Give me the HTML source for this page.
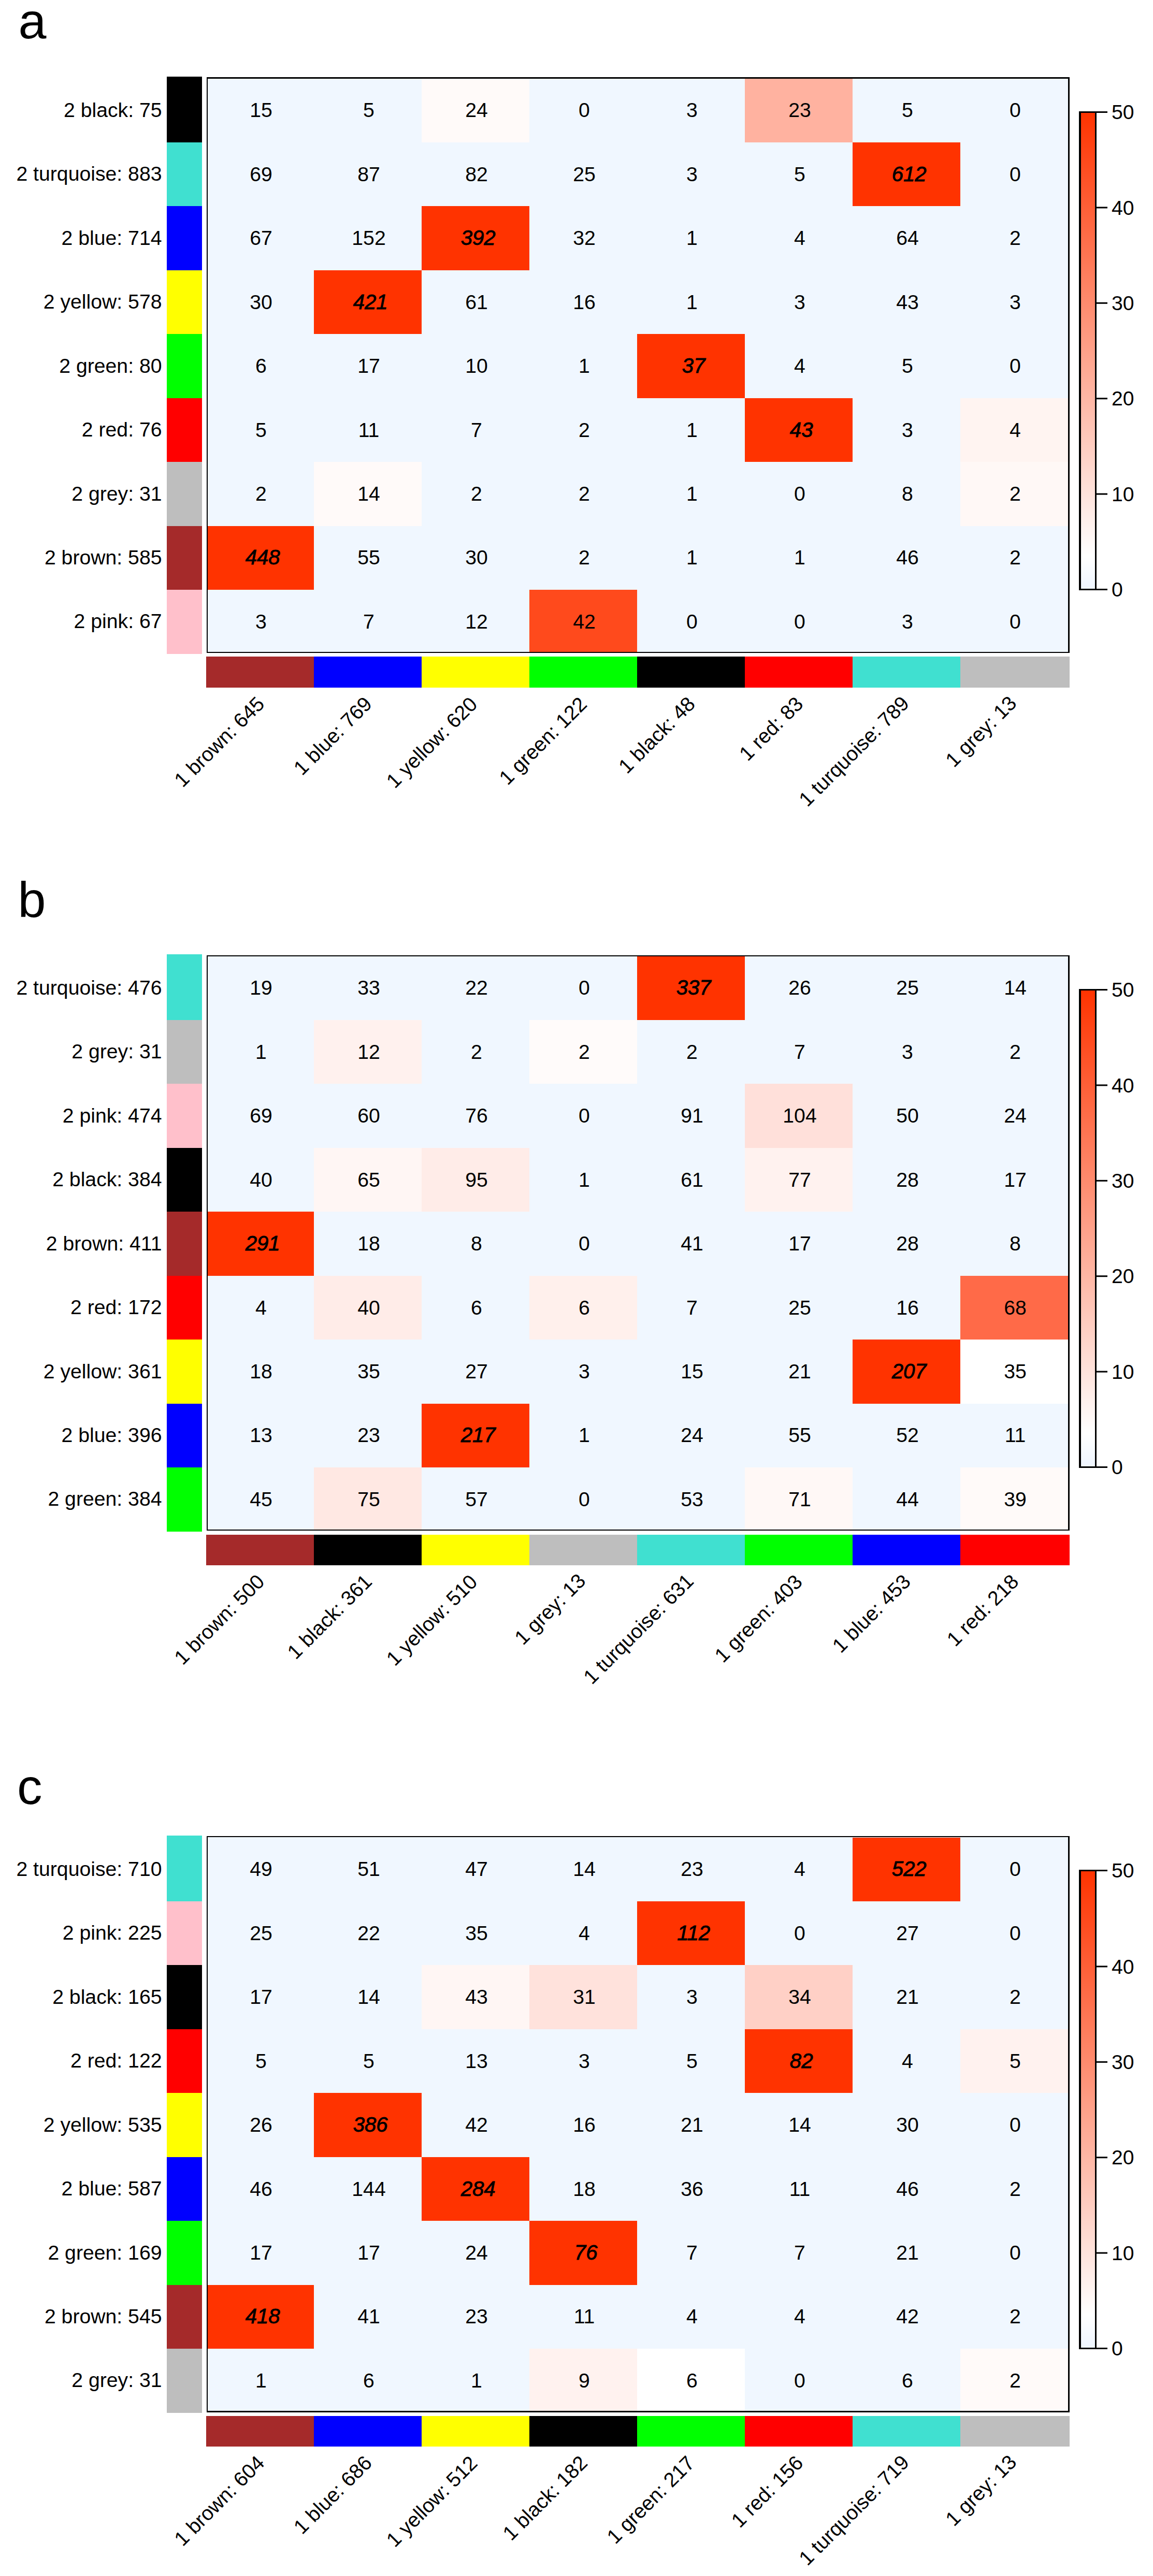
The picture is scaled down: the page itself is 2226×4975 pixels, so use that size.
<!DOCTYPE html>
<html><head><meta charset="utf-8"><title>Module overlap heatmaps</title>
<style>html,body{margin:0;padding:0;background:#fff}svg{display:block}</style></head>
<body>
<svg width="2226" height="4975" viewBox="0 0 2226 4975" font-family="'Liberation Sans', Arial, sans-serif" font-size="39.2" fill="#000">
<defs><linearGradient id="lg" x1="0" y1="0" x2="0" y2="1"><stop offset="0" stop-color="#FF3300"/><stop offset="0.93" stop-color="#FFFFFF"/><stop offset="1" stop-color="#EEF5FF"/></linearGradient></defs>
<g transform="translate(0,0)">
<text x="35.5" y="73.5" font-size="97">a</text>
<rect x="399" y="150" width="1663" height="1110" fill="#F0F7FF"/>
<rect x="814" y="152" width="208" height="123" fill="#FFFAF9"/>
<rect x="1438" y="152" width="208" height="123" fill="#FFB2A0"/>
<rect x="1646" y="275" width="208" height="123" fill="#FF3300"/>
<rect x="814" y="398" width="208" height="124" fill="#FF3300"/>
<rect x="606" y="522" width="208" height="123" fill="#FF3300"/>
<rect x="1230" y="645" width="208" height="124" fill="#FF3300"/>
<rect x="1438" y="769" width="208" height="123" fill="#FF3300"/>
<rect x="1854" y="769" width="208" height="123" fill="#FFF4F1"/>
<rect x="606" y="892" width="208" height="124" fill="#FFFAF9"/>
<rect x="1854" y="892" width="208" height="124" fill="#FFF8F6"/>
<rect x="399" y="1016" width="207" height="123" fill="#FF3300"/>
<rect x="1022" y="1139" width="208" height="121" fill="#FF4A1C"/>
<rect x="322" y="148" width="68" height="127" fill="#000000"/>
<rect x="322" y="275" width="68" height="123" fill="#40E0D0"/>
<rect x="322" y="398" width="68" height="124" fill="#0000FF"/>
<rect x="322" y="522" width="68" height="123" fill="#FFFF00"/>
<rect x="322" y="645" width="68" height="124" fill="#00FF00"/>
<rect x="322" y="769" width="68" height="123" fill="#FF0000"/>
<rect x="322" y="892" width="68" height="124" fill="#BEBEBE"/>
<rect x="322" y="1016" width="68" height="123" fill="#A52A2A"/>
<rect x="322" y="1139" width="68" height="124" fill="#FFC0CB"/>
<rect x="398" y="1268" width="208" height="60" fill="#A52A2A"/>
<rect x="606" y="1268" width="208" height="60" fill="#0000FF"/>
<rect x="814" y="1268" width="208" height="60" fill="#FFFF00"/>
<rect x="1022" y="1268" width="208" height="60" fill="#00FF00"/>
<rect x="1230" y="1268" width="208" height="60" fill="#000000"/>
<rect x="1438" y="1268" width="208" height="60" fill="#FF0000"/>
<rect x="1646" y="1268" width="208" height="60" fill="#40E0D0"/>
<rect x="1854" y="1268" width="211" height="60" fill="#BEBEBE"/>
<rect x="399" y="149" width="2" height="1112" fill="#000"/>
<rect x="2062" y="149" width="3" height="1112" fill="#000"/>
<rect x="399" y="149" width="1666" height="3" fill="#000"/>
<rect x="399" y="1259" width="1666" height="2" fill="#000"/>
<text x="312.5" y="225.9" text-anchor="end">2 black: 75</text>
<text x="312.5" y="349.3" text-anchor="end">2 turquoise: 883</text>
<text x="312.5" y="472.8" text-anchor="end">2 blue: 714</text>
<text x="312.5" y="596.2" text-anchor="end">2 yellow: 578</text>
<text x="312.5" y="719.6" text-anchor="end">2 green: 80</text>
<text x="312.5" y="843.1" text-anchor="end">2 red: 76</text>
<text x="312.5" y="966.5" text-anchor="end">2 grey: 31</text>
<text x="312.5" y="1089.9" text-anchor="end">2 brown: 585</text>
<text x="312.5" y="1213.4" text-anchor="end">2 pink: 67</text>
<text x="504.0" y="226.3" text-anchor="middle">15</text>
<text x="712.0" y="226.3" text-anchor="middle">5</text>
<text x="920.0" y="226.3" text-anchor="middle">24</text>
<text x="1128.0" y="226.3" text-anchor="middle">0</text>
<text x="1336.0" y="226.3" text-anchor="middle">3</text>
<text x="1544.0" y="226.3" text-anchor="middle">23</text>
<text x="1752.0" y="226.3" text-anchor="middle">5</text>
<text x="1960.0" y="226.3" text-anchor="middle">0</text>
<text x="504.0" y="349.7" text-anchor="middle">69</text>
<text x="712.0" y="349.7" text-anchor="middle">87</text>
<text x="920.0" y="349.7" text-anchor="middle">82</text>
<text x="1128.0" y="349.7" text-anchor="middle">25</text>
<text x="1336.0" y="349.7" text-anchor="middle">3</text>
<text x="1544.0" y="349.7" text-anchor="middle">5</text>
<text x="1755.2" y="349.7" text-anchor="middle" font-style="italic" font-size="40.2" stroke="#000" stroke-width="0.9">612</text>
<text x="1960.0" y="349.7" text-anchor="middle">0</text>
<text x="504.0" y="473.2" text-anchor="middle">67</text>
<text x="712.0" y="473.2" text-anchor="middle">152</text>
<text x="923.2" y="473.2" text-anchor="middle" font-style="italic" font-size="40.2" stroke="#000" stroke-width="0.9">392</text>
<text x="1128.0" y="473.2" text-anchor="middle">32</text>
<text x="1336.0" y="473.2" text-anchor="middle">1</text>
<text x="1544.0" y="473.2" text-anchor="middle">4</text>
<text x="1752.0" y="473.2" text-anchor="middle">64</text>
<text x="1960.0" y="473.2" text-anchor="middle">2</text>
<text x="504.0" y="596.6" text-anchor="middle">30</text>
<text x="715.2" y="596.6" text-anchor="middle" font-style="italic" font-size="40.2" stroke="#000" stroke-width="0.9">421</text>
<text x="920.0" y="596.6" text-anchor="middle">61</text>
<text x="1128.0" y="596.6" text-anchor="middle">16</text>
<text x="1336.0" y="596.6" text-anchor="middle">1</text>
<text x="1544.0" y="596.6" text-anchor="middle">3</text>
<text x="1752.0" y="596.6" text-anchor="middle">43</text>
<text x="1960.0" y="596.6" text-anchor="middle">3</text>
<text x="504.0" y="720.0" text-anchor="middle">6</text>
<text x="712.0" y="720.0" text-anchor="middle">17</text>
<text x="920.0" y="720.0" text-anchor="middle">10</text>
<text x="1128.0" y="720.0" text-anchor="middle">1</text>
<text x="1339.2" y="720.0" text-anchor="middle" font-style="italic" font-size="40.2" stroke="#000" stroke-width="0.9">37</text>
<text x="1544.0" y="720.0" text-anchor="middle">4</text>
<text x="1752.0" y="720.0" text-anchor="middle">5</text>
<text x="1960.0" y="720.0" text-anchor="middle">0</text>
<text x="504.0" y="843.5" text-anchor="middle">5</text>
<text x="712.0" y="843.5" text-anchor="middle">11</text>
<text x="920.0" y="843.5" text-anchor="middle">7</text>
<text x="1128.0" y="843.5" text-anchor="middle">2</text>
<text x="1336.0" y="843.5" text-anchor="middle">1</text>
<text x="1547.2" y="843.5" text-anchor="middle" font-style="italic" font-size="40.2" stroke="#000" stroke-width="0.9">43</text>
<text x="1752.0" y="843.5" text-anchor="middle">3</text>
<text x="1960.0" y="843.5" text-anchor="middle">4</text>
<text x="504.0" y="966.9" text-anchor="middle">2</text>
<text x="712.0" y="966.9" text-anchor="middle">14</text>
<text x="920.0" y="966.9" text-anchor="middle">2</text>
<text x="1128.0" y="966.9" text-anchor="middle">2</text>
<text x="1336.0" y="966.9" text-anchor="middle">1</text>
<text x="1544.0" y="966.9" text-anchor="middle">0</text>
<text x="1752.0" y="966.9" text-anchor="middle">8</text>
<text x="1960.0" y="966.9" text-anchor="middle">2</text>
<text x="507.2" y="1090.3" text-anchor="middle" font-style="italic" font-size="40.2" stroke="#000" stroke-width="0.9">448</text>
<text x="712.0" y="1090.3" text-anchor="middle">55</text>
<text x="920.0" y="1090.3" text-anchor="middle">30</text>
<text x="1128.0" y="1090.3" text-anchor="middle">2</text>
<text x="1336.0" y="1090.3" text-anchor="middle">1</text>
<text x="1544.0" y="1090.3" text-anchor="middle">1</text>
<text x="1752.0" y="1090.3" text-anchor="middle">46</text>
<text x="1960.0" y="1090.3" text-anchor="middle">2</text>
<text x="504.0" y="1213.8" text-anchor="middle">3</text>
<text x="712.0" y="1213.8" text-anchor="middle">7</text>
<text x="920.0" y="1213.8" text-anchor="middle">12</text>
<text x="1128.0" y="1213.8" text-anchor="middle">42</text>
<text x="1336.0" y="1213.8" text-anchor="middle">0</text>
<text x="1544.0" y="1213.8" text-anchor="middle">0</text>
<text x="1752.0" y="1213.8" text-anchor="middle">3</text>
<text x="1960.0" y="1213.8" text-anchor="middle">0</text>
<text transform="translate(513.0,1362.0) rotate(-45)" text-anchor="end">1 brown: 645</text>
<text transform="translate(720.5,1362.0) rotate(-45)" text-anchor="end">1 blue: 769</text>
<text transform="translate(924.0,1362.5) rotate(-45)" text-anchor="end">1 yellow: 620</text>
<text transform="translate(1135.5,1362.5) rotate(-45)" text-anchor="end">1 green: 122</text>
<text transform="translate(1344.5,1362.0) rotate(-45)" text-anchor="end">1 black: 48</text>
<text transform="translate(1553.0,1362.0) rotate(-45)" text-anchor="end">1 red: 83</text>
<text transform="translate(1757.5,1361.0) rotate(-45)" text-anchor="end">1 turquoise: 789</text>
<text transform="translate(1965.0,1360.5) rotate(-45)" text-anchor="end">1 grey: 13</text>
<rect x="2085" y="217" width="30" height="921" fill="url(#lg)"/>
<rect x="2083" y="215" width="4" height="925" fill="#000"/>
<rect x="2114" y="215" width="3" height="925" fill="#000"/>
<rect x="2083" y="215" width="34" height="3" fill="#000"/>
<rect x="2083" y="1137" width="34" height="3" fill="#000"/>
<rect x="2116" y="215" width="22" height="3" fill="#000"/>
<text x="2146" y="230.2">50</text>
<rect x="2116" y="399.4" width="22" height="3" fill="#000"/>
<text x="2146" y="414.6">40</text>
<rect x="2116" y="583.8" width="22" height="3" fill="#000"/>
<text x="2146" y="599.0">30</text>
<rect x="2116" y="768.2" width="22" height="3" fill="#000"/>
<text x="2146" y="783.4">20</text>
<rect x="2116" y="952.6" width="22" height="3" fill="#000"/>
<text x="2146" y="967.8">10</text>
<rect x="2116" y="1137" width="22" height="3" fill="#000"/>
<text x="2146" y="1152.2">0</text>
</g>
<g transform="translate(0,1695)">
<text x="34.5" y="75.5" font-size="97">b</text>
<rect x="399" y="150" width="1663" height="1110" fill="#F0F7FF"/>
<rect x="1230" y="152" width="208" height="123" fill="#FF3300"/>
<rect x="606" y="275" width="208" height="123" fill="#FFF1EE"/>
<rect x="1022" y="275" width="208" height="123" fill="#FFFBFA"/>
<rect x="1438" y="398" width="208" height="124" fill="#FFE0DA"/>
<rect x="606" y="522" width="208" height="123" fill="#FFF6F4"/>
<rect x="814" y="522" width="208" height="123" fill="#FFECE8"/>
<rect x="1438" y="522" width="208" height="123" fill="#FFF2EF"/>
<rect x="399" y="645" width="207" height="124" fill="#FF3300"/>
<rect x="606" y="769" width="208" height="123" fill="#FFECE8"/>
<rect x="1022" y="769" width="208" height="123" fill="#FFF0EC"/>
<rect x="1854" y="769" width="208" height="123" fill="#FF6A48"/>
<rect x="1646" y="892" width="208" height="124" fill="#FF3300"/>
<rect x="1854" y="892" width="208" height="124" fill="#FFFFFF"/>
<rect x="814" y="1016" width="208" height="123" fill="#FF3300"/>
<rect x="606" y="1139" width="208" height="121" fill="#FFE8E3"/>
<rect x="1438" y="1139" width="208" height="121" fill="#FFF8F6"/>
<rect x="1854" y="1139" width="208" height="121" fill="#FFFAF9"/>
<rect x="322" y="148" width="68" height="127" fill="#40E0D0"/>
<rect x="322" y="275" width="68" height="123" fill="#BEBEBE"/>
<rect x="322" y="398" width="68" height="124" fill="#FFC0CB"/>
<rect x="322" y="522" width="68" height="123" fill="#000000"/>
<rect x="322" y="645" width="68" height="124" fill="#A52A2A"/>
<rect x="322" y="769" width="68" height="123" fill="#FF0000"/>
<rect x="322" y="892" width="68" height="124" fill="#FFFF00"/>
<rect x="322" y="1016" width="68" height="123" fill="#0000FF"/>
<rect x="322" y="1139" width="68" height="124" fill="#00FF00"/>
<rect x="398" y="1269" width="208" height="59" fill="#A52A2A"/>
<rect x="606" y="1269" width="208" height="59" fill="#000000"/>
<rect x="814" y="1269" width="208" height="59" fill="#FFFF00"/>
<rect x="1022" y="1269" width="208" height="59" fill="#BEBEBE"/>
<rect x="1230" y="1269" width="208" height="59" fill="#40E0D0"/>
<rect x="1438" y="1269" width="208" height="59" fill="#00FF00"/>
<rect x="1646" y="1269" width="208" height="59" fill="#0000FF"/>
<rect x="1854" y="1269" width="211" height="59" fill="#FF0000"/>
<rect x="399" y="150" width="2" height="1111" fill="#000"/>
<rect x="2062" y="150" width="3" height="1111" fill="#000"/>
<rect x="399" y="150" width="1666" height="2" fill="#000"/>
<rect x="399" y="1259" width="1666" height="2" fill="#000"/>
<text x="312.5" y="225.9" text-anchor="end">2 turquoise: 476</text>
<text x="312.5" y="349.3" text-anchor="end">2 grey: 31</text>
<text x="312.5" y="472.8" text-anchor="end">2 pink: 474</text>
<text x="312.5" y="596.2" text-anchor="end">2 black: 384</text>
<text x="312.5" y="719.6" text-anchor="end">2 brown: 411</text>
<text x="312.5" y="843.1" text-anchor="end">2 red: 172</text>
<text x="312.5" y="966.5" text-anchor="end">2 yellow: 361</text>
<text x="312.5" y="1089.9" text-anchor="end">2 blue: 396</text>
<text x="312.5" y="1213.4" text-anchor="end">2 green: 384</text>
<text x="504.0" y="226.3" text-anchor="middle">19</text>
<text x="712.0" y="226.3" text-anchor="middle">33</text>
<text x="920.0" y="226.3" text-anchor="middle">22</text>
<text x="1128.0" y="226.3" text-anchor="middle">0</text>
<text x="1339.2" y="226.3" text-anchor="middle" font-style="italic" font-size="40.2" stroke="#000" stroke-width="0.9">337</text>
<text x="1544.0" y="226.3" text-anchor="middle">26</text>
<text x="1752.0" y="226.3" text-anchor="middle">25</text>
<text x="1960.0" y="226.3" text-anchor="middle">14</text>
<text x="504.0" y="349.7" text-anchor="middle">1</text>
<text x="712.0" y="349.7" text-anchor="middle">12</text>
<text x="920.0" y="349.7" text-anchor="middle">2</text>
<text x="1128.0" y="349.7" text-anchor="middle">2</text>
<text x="1336.0" y="349.7" text-anchor="middle">2</text>
<text x="1544.0" y="349.7" text-anchor="middle">7</text>
<text x="1752.0" y="349.7" text-anchor="middle">3</text>
<text x="1960.0" y="349.7" text-anchor="middle">2</text>
<text x="504.0" y="473.2" text-anchor="middle">69</text>
<text x="712.0" y="473.2" text-anchor="middle">60</text>
<text x="920.0" y="473.2" text-anchor="middle">76</text>
<text x="1128.0" y="473.2" text-anchor="middle">0</text>
<text x="1336.0" y="473.2" text-anchor="middle">91</text>
<text x="1544.0" y="473.2" text-anchor="middle">104</text>
<text x="1752.0" y="473.2" text-anchor="middle">50</text>
<text x="1960.0" y="473.2" text-anchor="middle">24</text>
<text x="504.0" y="596.6" text-anchor="middle">40</text>
<text x="712.0" y="596.6" text-anchor="middle">65</text>
<text x="920.0" y="596.6" text-anchor="middle">95</text>
<text x="1128.0" y="596.6" text-anchor="middle">1</text>
<text x="1336.0" y="596.6" text-anchor="middle">61</text>
<text x="1544.0" y="596.6" text-anchor="middle">77</text>
<text x="1752.0" y="596.6" text-anchor="middle">28</text>
<text x="1960.0" y="596.6" text-anchor="middle">17</text>
<text x="507.2" y="720.0" text-anchor="middle" font-style="italic" font-size="40.2" stroke="#000" stroke-width="0.9">291</text>
<text x="712.0" y="720.0" text-anchor="middle">18</text>
<text x="920.0" y="720.0" text-anchor="middle">8</text>
<text x="1128.0" y="720.0" text-anchor="middle">0</text>
<text x="1336.0" y="720.0" text-anchor="middle">41</text>
<text x="1544.0" y="720.0" text-anchor="middle">17</text>
<text x="1752.0" y="720.0" text-anchor="middle">28</text>
<text x="1960.0" y="720.0" text-anchor="middle">8</text>
<text x="504.0" y="843.5" text-anchor="middle">4</text>
<text x="712.0" y="843.5" text-anchor="middle">40</text>
<text x="920.0" y="843.5" text-anchor="middle">6</text>
<text x="1128.0" y="843.5" text-anchor="middle">6</text>
<text x="1336.0" y="843.5" text-anchor="middle">7</text>
<text x="1544.0" y="843.5" text-anchor="middle">25</text>
<text x="1752.0" y="843.5" text-anchor="middle">16</text>
<text x="1960.0" y="843.5" text-anchor="middle">68</text>
<text x="504.0" y="966.9" text-anchor="middle">18</text>
<text x="712.0" y="966.9" text-anchor="middle">35</text>
<text x="920.0" y="966.9" text-anchor="middle">27</text>
<text x="1128.0" y="966.9" text-anchor="middle">3</text>
<text x="1336.0" y="966.9" text-anchor="middle">15</text>
<text x="1544.0" y="966.9" text-anchor="middle">21</text>
<text x="1755.2" y="966.9" text-anchor="middle" font-style="italic" font-size="40.2" stroke="#000" stroke-width="0.9">207</text>
<text x="1960.0" y="966.9" text-anchor="middle">35</text>
<text x="504.0" y="1090.3" text-anchor="middle">13</text>
<text x="712.0" y="1090.3" text-anchor="middle">23</text>
<text x="923.2" y="1090.3" text-anchor="middle" font-style="italic" font-size="40.2" stroke="#000" stroke-width="0.9">217</text>
<text x="1128.0" y="1090.3" text-anchor="middle">1</text>
<text x="1336.0" y="1090.3" text-anchor="middle">24</text>
<text x="1544.0" y="1090.3" text-anchor="middle">55</text>
<text x="1752.0" y="1090.3" text-anchor="middle">52</text>
<text x="1960.0" y="1090.3" text-anchor="middle">11</text>
<text x="504.0" y="1213.8" text-anchor="middle">45</text>
<text x="712.0" y="1213.8" text-anchor="middle">75</text>
<text x="920.0" y="1213.8" text-anchor="middle">57</text>
<text x="1128.0" y="1213.8" text-anchor="middle">0</text>
<text x="1336.0" y="1213.8" text-anchor="middle">53</text>
<text x="1544.0" y="1213.8" text-anchor="middle">71</text>
<text x="1752.0" y="1213.8" text-anchor="middle">44</text>
<text x="1960.0" y="1213.8" text-anchor="middle">39</text>
<text transform="translate(513.0,1362.0) rotate(-45)" text-anchor="end">1 brown: 500</text>
<text transform="translate(720.5,1362.0) rotate(-45)" text-anchor="end">1 black: 361</text>
<text transform="translate(924.0,1362.5) rotate(-45)" text-anchor="end">1 yellow: 510</text>
<text transform="translate(1133.0,1360.5) rotate(-45)" text-anchor="end">1 grey: 13</text>
<text transform="translate(1341.5,1361.0) rotate(-45)" text-anchor="end">1 turquoise: 631</text>
<text transform="translate(1551.5,1362.5) rotate(-45)" text-anchor="end">1 green: 403</text>
<text transform="translate(1760.5,1362.0) rotate(-45)" text-anchor="end">1 blue: 453</text>
<text transform="translate(1969.0,1362.0) rotate(-45)" text-anchor="end">1 red: 218</text>
<rect x="2085" y="217" width="30" height="921" fill="url(#lg)"/>
<rect x="2083" y="215" width="4" height="925" fill="#000"/>
<rect x="2114" y="215" width="3" height="925" fill="#000"/>
<rect x="2083" y="215" width="34" height="3" fill="#000"/>
<rect x="2083" y="1137" width="34" height="3" fill="#000"/>
<rect x="2116" y="215" width="22" height="3" fill="#000"/>
<text x="2146" y="230.2">50</text>
<rect x="2116" y="399.4" width="22" height="3" fill="#000"/>
<text x="2146" y="414.6">40</text>
<rect x="2116" y="583.8" width="22" height="3" fill="#000"/>
<text x="2146" y="599.0">30</text>
<rect x="2116" y="768.2" width="22" height="3" fill="#000"/>
<text x="2146" y="783.4">20</text>
<rect x="2116" y="952.6" width="22" height="3" fill="#000"/>
<text x="2146" y="967.8">10</text>
<rect x="2116" y="1137" width="22" height="3" fill="#000"/>
<text x="2146" y="1152.2">0</text>
</g>
<g transform="translate(0,3397)">
<text x="33" y="87" font-size="97">c</text>
<rect x="399" y="150" width="1663" height="1110" fill="#F0F7FF"/>
<rect x="1646" y="152" width="208" height="123" fill="#FF3300"/>
<rect x="1230" y="275" width="208" height="123" fill="#FF3300"/>
<rect x="814" y="398" width="208" height="124" fill="#FFF6F4"/>
<rect x="1022" y="398" width="208" height="124" fill="#FFE2DC"/>
<rect x="1438" y="398" width="208" height="124" fill="#FFD0C6"/>
<rect x="1438" y="522" width="208" height="123" fill="#FF3300"/>
<rect x="1854" y="522" width="208" height="123" fill="#FFF2EF"/>
<rect x="606" y="645" width="208" height="124" fill="#FF3300"/>
<rect x="814" y="769" width="208" height="123" fill="#FF3300"/>
<rect x="1022" y="892" width="208" height="124" fill="#FF3300"/>
<rect x="399" y="1016" width="207" height="123" fill="#FF3300"/>
<rect x="1022" y="1139" width="208" height="121" fill="#FFF2EF"/>
<rect x="1230" y="1139" width="208" height="121" fill="#FFFFFF"/>
<rect x="1854" y="1139" width="208" height="121" fill="#FFFAF9"/>
<rect x="322" y="148" width="68" height="127" fill="#40E0D0"/>
<rect x="322" y="275" width="68" height="123" fill="#FFC0CB"/>
<rect x="322" y="398" width="68" height="124" fill="#000000"/>
<rect x="322" y="522" width="68" height="123" fill="#FF0000"/>
<rect x="322" y="645" width="68" height="124" fill="#FFFF00"/>
<rect x="322" y="769" width="68" height="123" fill="#0000FF"/>
<rect x="322" y="892" width="68" height="124" fill="#00FF00"/>
<rect x="322" y="1016" width="68" height="123" fill="#A52A2A"/>
<rect x="322" y="1139" width="68" height="124" fill="#BEBEBE"/>
<rect x="398" y="1269" width="208" height="59" fill="#A52A2A"/>
<rect x="606" y="1269" width="208" height="59" fill="#0000FF"/>
<rect x="814" y="1269" width="208" height="59" fill="#FFFF00"/>
<rect x="1022" y="1269" width="208" height="59" fill="#000000"/>
<rect x="1230" y="1269" width="208" height="59" fill="#00FF00"/>
<rect x="1438" y="1269" width="208" height="59" fill="#FF0000"/>
<rect x="1646" y="1269" width="208" height="59" fill="#40E0D0"/>
<rect x="1854" y="1269" width="211" height="59" fill="#BEBEBE"/>
<rect x="399" y="149" width="2" height="1113" fill="#000"/>
<rect x="2062" y="149" width="3" height="1113" fill="#000"/>
<rect x="399" y="149" width="1666" height="2" fill="#000"/>
<rect x="399" y="1259" width="1666" height="3" fill="#000"/>
<text x="312.5" y="225.9" text-anchor="end">2 turquoise: 710</text>
<text x="312.5" y="349.3" text-anchor="end">2 pink: 225</text>
<text x="312.5" y="472.8" text-anchor="end">2 black: 165</text>
<text x="312.5" y="596.2" text-anchor="end">2 red: 122</text>
<text x="312.5" y="719.6" text-anchor="end">2 yellow: 535</text>
<text x="312.5" y="843.1" text-anchor="end">2 blue: 587</text>
<text x="312.5" y="966.5" text-anchor="end">2 green: 169</text>
<text x="312.5" y="1089.9" text-anchor="end">2 brown: 545</text>
<text x="312.5" y="1213.4" text-anchor="end">2 grey: 31</text>
<text x="504.0" y="226.3" text-anchor="middle">49</text>
<text x="712.0" y="226.3" text-anchor="middle">51</text>
<text x="920.0" y="226.3" text-anchor="middle">47</text>
<text x="1128.0" y="226.3" text-anchor="middle">14</text>
<text x="1336.0" y="226.3" text-anchor="middle">23</text>
<text x="1544.0" y="226.3" text-anchor="middle">4</text>
<text x="1755.2" y="226.3" text-anchor="middle" font-style="italic" font-size="40.2" stroke="#000" stroke-width="0.9">522</text>
<text x="1960.0" y="226.3" text-anchor="middle">0</text>
<text x="504.0" y="349.7" text-anchor="middle">25</text>
<text x="712.0" y="349.7" text-anchor="middle">22</text>
<text x="920.0" y="349.7" text-anchor="middle">35</text>
<text x="1128.0" y="349.7" text-anchor="middle">4</text>
<text x="1339.2" y="349.7" text-anchor="middle" font-style="italic" font-size="40.2" stroke="#000" stroke-width="0.9">112</text>
<text x="1544.0" y="349.7" text-anchor="middle">0</text>
<text x="1752.0" y="349.7" text-anchor="middle">27</text>
<text x="1960.0" y="349.7" text-anchor="middle">0</text>
<text x="504.0" y="473.2" text-anchor="middle">17</text>
<text x="712.0" y="473.2" text-anchor="middle">14</text>
<text x="920.0" y="473.2" text-anchor="middle">43</text>
<text x="1128.0" y="473.2" text-anchor="middle">31</text>
<text x="1336.0" y="473.2" text-anchor="middle">3</text>
<text x="1544.0" y="473.2" text-anchor="middle">34</text>
<text x="1752.0" y="473.2" text-anchor="middle">21</text>
<text x="1960.0" y="473.2" text-anchor="middle">2</text>
<text x="504.0" y="596.6" text-anchor="middle">5</text>
<text x="712.0" y="596.6" text-anchor="middle">5</text>
<text x="920.0" y="596.6" text-anchor="middle">13</text>
<text x="1128.0" y="596.6" text-anchor="middle">3</text>
<text x="1336.0" y="596.6" text-anchor="middle">5</text>
<text x="1547.2" y="596.6" text-anchor="middle" font-style="italic" font-size="40.2" stroke="#000" stroke-width="0.9">82</text>
<text x="1752.0" y="596.6" text-anchor="middle">4</text>
<text x="1960.0" y="596.6" text-anchor="middle">5</text>
<text x="504.0" y="720.0" text-anchor="middle">26</text>
<text x="715.2" y="720.0" text-anchor="middle" font-style="italic" font-size="40.2" stroke="#000" stroke-width="0.9">386</text>
<text x="920.0" y="720.0" text-anchor="middle">42</text>
<text x="1128.0" y="720.0" text-anchor="middle">16</text>
<text x="1336.0" y="720.0" text-anchor="middle">21</text>
<text x="1544.0" y="720.0" text-anchor="middle">14</text>
<text x="1752.0" y="720.0" text-anchor="middle">30</text>
<text x="1960.0" y="720.0" text-anchor="middle">0</text>
<text x="504.0" y="843.5" text-anchor="middle">46</text>
<text x="712.0" y="843.5" text-anchor="middle">144</text>
<text x="923.2" y="843.5" text-anchor="middle" font-style="italic" font-size="40.2" stroke="#000" stroke-width="0.9">284</text>
<text x="1128.0" y="843.5" text-anchor="middle">18</text>
<text x="1336.0" y="843.5" text-anchor="middle">36</text>
<text x="1544.0" y="843.5" text-anchor="middle">11</text>
<text x="1752.0" y="843.5" text-anchor="middle">46</text>
<text x="1960.0" y="843.5" text-anchor="middle">2</text>
<text x="504.0" y="966.9" text-anchor="middle">17</text>
<text x="712.0" y="966.9" text-anchor="middle">17</text>
<text x="920.0" y="966.9" text-anchor="middle">24</text>
<text x="1131.2" y="966.9" text-anchor="middle" font-style="italic" font-size="40.2" stroke="#000" stroke-width="0.9">76</text>
<text x="1336.0" y="966.9" text-anchor="middle">7</text>
<text x="1544.0" y="966.9" text-anchor="middle">7</text>
<text x="1752.0" y="966.9" text-anchor="middle">21</text>
<text x="1960.0" y="966.9" text-anchor="middle">0</text>
<text x="507.2" y="1090.3" text-anchor="middle" font-style="italic" font-size="40.2" stroke="#000" stroke-width="0.9">418</text>
<text x="712.0" y="1090.3" text-anchor="middle">41</text>
<text x="920.0" y="1090.3" text-anchor="middle">23</text>
<text x="1128.0" y="1090.3" text-anchor="middle">11</text>
<text x="1336.0" y="1090.3" text-anchor="middle">4</text>
<text x="1544.0" y="1090.3" text-anchor="middle">4</text>
<text x="1752.0" y="1090.3" text-anchor="middle">42</text>
<text x="1960.0" y="1090.3" text-anchor="middle">2</text>
<text x="504.0" y="1213.8" text-anchor="middle">1</text>
<text x="712.0" y="1213.8" text-anchor="middle">6</text>
<text x="920.0" y="1213.8" text-anchor="middle">1</text>
<text x="1128.0" y="1213.8" text-anchor="middle">9</text>
<text x="1336.0" y="1213.8" text-anchor="middle">6</text>
<text x="1544.0" y="1213.8" text-anchor="middle">0</text>
<text x="1752.0" y="1213.8" text-anchor="middle">6</text>
<text x="1960.0" y="1213.8" text-anchor="middle">2</text>
<text transform="translate(513.0,1362.0) rotate(-45)" text-anchor="end">1 brown: 604</text>
<text transform="translate(720.5,1362.0) rotate(-45)" text-anchor="end">1 blue: 686</text>
<text transform="translate(924.0,1362.5) rotate(-45)" text-anchor="end">1 yellow: 512</text>
<text transform="translate(1136.5,1362.0) rotate(-45)" text-anchor="end">1 black: 182</text>
<text transform="translate(1343.5,1362.5) rotate(-45)" text-anchor="end">1 green: 217</text>
<text transform="translate(1553.0,1362.0) rotate(-45)" text-anchor="end">1 red: 156</text>
<text transform="translate(1757.5,1361.0) rotate(-45)" text-anchor="end">1 turquoise: 719</text>
<text transform="translate(1965.0,1360.5) rotate(-45)" text-anchor="end">1 grey: 13</text>
<rect x="2085" y="216" width="30" height="922" fill="url(#lg)"/>
<rect x="2083" y="214" width="4" height="926" fill="#000"/>
<rect x="2114" y="214" width="3" height="926" fill="#000"/>
<rect x="2083" y="214" width="34" height="3" fill="#000"/>
<rect x="2083" y="1137" width="34" height="3" fill="#000"/>
<rect x="2116" y="214" width="22" height="3" fill="#000"/>
<text x="2146" y="229.2">50</text>
<rect x="2116" y="399.4" width="22" height="3" fill="#000"/>
<text x="2146" y="414.6">40</text>
<rect x="2116" y="583.8" width="22" height="3" fill="#000"/>
<text x="2146" y="599.0">30</text>
<rect x="2116" y="768.2" width="22" height="3" fill="#000"/>
<text x="2146" y="783.4">20</text>
<rect x="2116" y="952.6" width="22" height="3" fill="#000"/>
<text x="2146" y="967.8">10</text>
<rect x="2116" y="1137" width="22" height="3" fill="#000"/>
<text x="2146" y="1152.2">0</text>
</g>
</svg>
</body></html>
